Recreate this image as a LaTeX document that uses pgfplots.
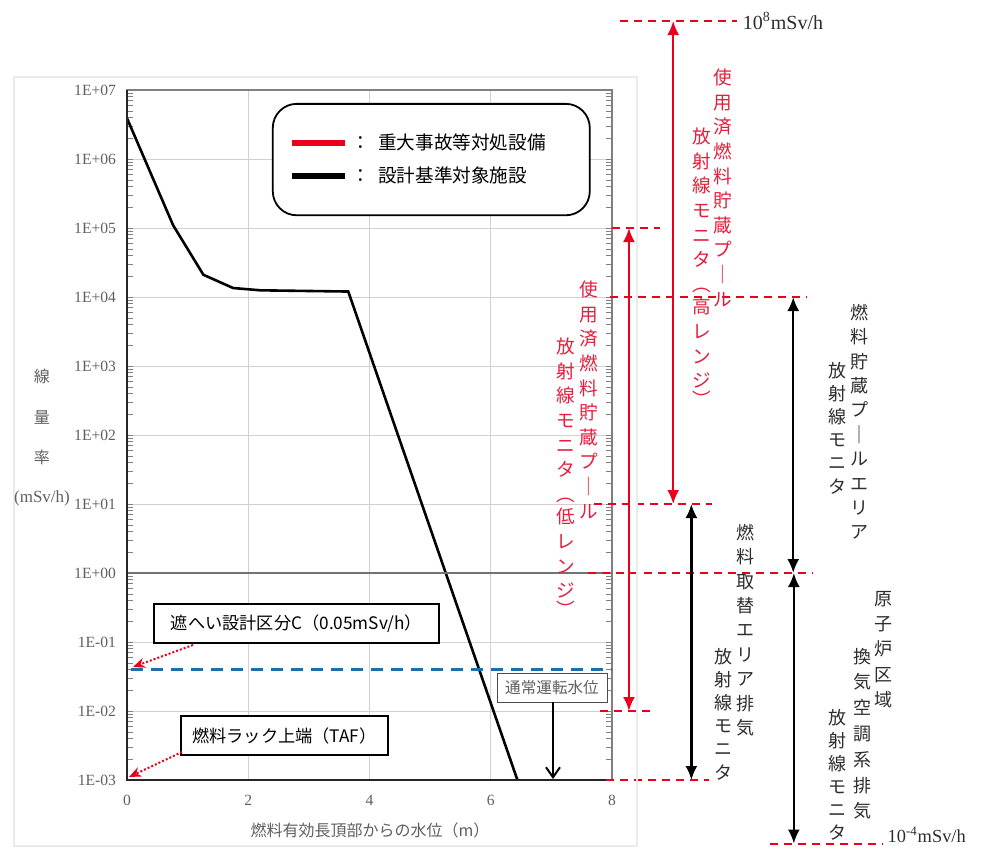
\documentclass[border=0pt]{standalone}
\usepackage{fontspec}
\setmainfont{Liberation Serif}
\newfontfamily\jp{Noto Sans CJK JP}
\usepackage{pgfplots}
\pgfplotsset{compat=1.18}
\usetikzlibrary{arrows.meta}
\definecolor{sared}{RGB}{232,0,30}
\definecolor{satext}{RGB}{228,30,60}
\definecolor{blueline}{RGB}{30,110,170}
\definecolor{ticktext}{RGB}{95,95,95}
\definecolor{vtext}{RGB}{45,45,45}
\tikzset{
  rarr/.style={sared, line width=1.1pt, {Latex[length=7pt,width=6pt]}-{Latex[length=7pt,width=6pt]}},
  barr/.style={black, line width=1.1pt, {Latex[length=7pt,width=6pt]}-{Latex[length=7pt,width=6pt]}},
  rdash/.style={sared, line width=1pt, dash pattern=on 4pt off 3pt},
  vred/.style={anchor=north, inner sep=0pt, align=center, text=satext, font=\jp\fontsize{9.3}{12.3}\selectfont},
  vblk/.style={anchor=north, inner sep=0pt, align=center, text=vtext, font=\jp\fontsize{9}{12.2}\selectfont},
  vblkl/.style={anchor=north, inner sep=0pt, align=center, text=vtext, font=\jp\fontsize{9}{11.6}\selectfont},
}
\begin{document}
\begin{tikzpicture}
\useasboundingbox (-63.5pt,-34pt) rectangle (427.5pt,390pt);
\begin{axis}[
  at={(0,0)}, anchor=south west,
  scale only axis, width=242.5pt, height=345pt,
  xmin=0, xmax=8, ymin=1e-3, ymax=1e7, ymode=log,
  xtick={0,2,4,6,8},
  ytick={1e-3,1e-2,1e-1,1,1e1,1e2,1e3,1e4,1e5,1e6,1e7},
  yticklabels={1E-03,1E-02,1E-01,1E+00,1E+01,1E+02,1E+03,1E+04,1E+05,1E+06,1E+07},
  /pgf/number format/assume math mode=true,
  ticklabel style={font=\fontsize{7.8}{9}\selectfont, text=ticktext},
  yticklabel style={xshift=-2pt},
  xticklabel style={yshift=-4pt},
  major tick length=0pt,
  grid=major, major grid style={draw=black!18, line width=0.5pt},
  axis line style={draw=black!50, line width=0.8pt},
  clip=false,
  legend style={at={(axis cs:2.39,6.49e6)}, anchor=north west, draw=black, line width=0.9pt,
    rounded corners=12pt, inner xsep=8pt, inner ysep=13pt,
    font=\jp\fontsize{9.3}{11}\selectfont, row sep=3pt},
  legend cell align=left,
  legend image code/.code={\draw[#1, rounded corners=0pt] (0pt,0pt) -- (26.5pt,0pt);},
]
\addplot[black, line width=1.3pt, forget plot] coordinates {
  (0,3.9e6) (0.29,1.0e6) (0.76,1.1e5) (1.26,2.1e4) (1.75,1.35e4) (2.2,1.25e4) (3.65,1.2e4) (6.44,1e-3)};
\addplot[blueline, line width=1.5pt, dash pattern=on 6pt off 4pt, forget plot] coordinates {(0.07,0.04) (8,0.04)};
\addlegendimage{sared, line width=3pt}
\addlegendentry{：\hspace{4pt}重大事故等対処設備\hspace*{12pt}}
\addlegendimage{black, line width=3pt}
\addlegendentry{：\hspace{4pt}設計基準対象施設}
% darker lines
\draw[black!55, line width=0.6pt] (axis cs:0,1) -- (axis cs:8,1);
\draw[black!85, line width=1pt] (rel axis cs:0,1) -- (rel axis cs:0,0) -- (rel axis cs:1,0);
% range limit lines
\draw[rdash] (axis cs:8.14,1e8) -- (axis cs:10.06,1e8);
\draw[rdash] (axis cs:8.0,1e5) -- (axis cs:8.8,1e5);
\draw[rdash] (axis cs:7.97,1e4) -- (axis cs:11.22,1e4);
\draw[rdash] (axis cs:7.7,1e1) -- (axis cs:9.65,1e1);
\draw[rdash] (axis cs:7.6,1) -- (axis cs:11.32,1);
\draw[rdash] (axis cs:7.8,1e-2) -- (axis cs:8.65,1e-2);
\draw[rdash] (axis cs:7.9,1e-3) -- (axis cs:9.6,1e-3);
\draw[rdash] (axis cs:10.6,1.2e-4) -- (axis cs:12.45,1.2e-4);
% range arrows
\draw[rarr] (axis cs:9.01,1e8) -- (axis cs:9.01,1e1);
\draw[rarr] (axis cs:8.28,1e5) -- (axis cs:8.28,1e-2);
\draw[barr] (axis cs:10.99,1e4) -- (axis cs:10.99,1);
\draw[barr] (axis cs:9.31,1e1) -- (axis cs:9.31,1e-3);
\draw[barr] (axis cs:11.0,1) -- (axis cs:11.0,1.2e-4);
\node[anchor=west, inner sep=1pt, font=\fontsize{10}{12}\selectfont, text=vtext] at (axis cs:10.12,1e8) {10\textsuperscript{8}mSv/h};
\node[anchor=west, inner sep=0pt, font=\fontsize{9.2}{11}\selectfont, text=vtext] at (axis cs:12.54,1.6e-4) {10\textsuperscript{-4}mSv/h};
\end{axis}
\begin{scope}[shift={(-63.5pt,390pt)}, x=0.5pt, y=-0.5pt]
\draw[black!8, line width=0.6pt] (14,77) rectangle (637,846);
% y label
\node[font=\jp\fontsize{8}{9}\selectfont, text=ticktext] at (42,376) {線};
\node[font=\jp\fontsize{8}{9}\selectfont, text=ticktext] at (42,417) {量};
\node[font=\jp\fontsize{8}{9}\selectfont, text=ticktext] at (42,457) {率};
\node[font=\fontsize{8.5}{10}\selectfont, text=ticktext] at (42,498) {(mSv/h)};
% x label
\node[font=\jp\fontsize{8}{9}\selectfont, text=ticktext] at (370,830) {燃料有効長頂部からの水位（m）};
% callouts
\draw[black, line width=1pt, fill=white] (154,604) rectangle (439,643);
\node[font=\jp\fontsize{8.6}{10}\selectfont] at (296.5,623.5) {遮へい設計区分C（0.05mSv/h）};
\draw[sared, line width=1pt, dash pattern=on 1pt off 1pt, -{Stealth[length=6pt,width=5pt]}] (193,645) -- (133,667);
\draw[black, line width=1pt, fill=white] (181,716) rectangle (388,755);
\node[font=\jp\fontsize{8.6}{10}\selectfont] at (284.5,735.5) {燃料ラック上端（TAF）};
\draw[sared, line width=1pt, dash pattern=on 1pt off 1pt, -{Stealth[length=6pt,width=5pt]}] (182,752) -- (129,777);
\draw[black!70, line width=0.5pt, fill=white] (497,673) rectangle (607,702);
\node[font=\jp\fontsize{7.8}{9}\selectfont, text=ticktext] at (552,687.5) {通常運転水位};
\draw[black, line width=1pt, -{Straight Barb[length=5pt,width=7pt]}] (553,702) -- (553,779);
% vertical texts (red)
\node[vred] at (723,68.6) {使\\用\\済\\燃\\料\\貯\\蔵\\プ\\｜\\ル};
\node[vred] at (702,127.6) {放\\射\\線\\モ\\ニ\\タ\\︵\\[-1pt]高\\レ\\ン\\ジ\\[-3pt]︶};
\node[vred] at (589,280.6) {使\\用\\済\\燃\\料\\貯\\蔵\\プ\\｜\\ル};
\node[vred] at (566,337.6) {放\\射\\線\\モ\\ニ\\タ\\︵\\[-1pt]低\\レ\\ン\\ジ\\[-3pt]︶};
% vertical texts (black)
\node[vblk] at (859,303.6) {燃\\料\\貯\\蔵\\プ\\｜\\ル\\エ\\リ\\ア};
\node[vblkl] at (837,361.6) {放\\射\\線\\モ\\ニ\\タ};
\node[vblk] at (745,523.6) {燃\\料\\取\\替\\エ\\リ\\ア\\排\\気};
\node[vblkl] at (723,647.6) {放\\射\\線\\モ\\ニ\\タ};
\node[vblk, font=\jp\fontsize{9}{12.7}\selectfont] at (883,590.6) {原\\子\\炉\\区\\域};
\node[vblk, font=\jp\fontsize{9}{12.9}\selectfont] at (862,647.6) {換\\気\\空\\調\\系\\排\\気};
\node[vblkl, font=\jp\fontsize{9}{11.5}\selectfont] at (837,708.6) {放\\射\\線\\モ\\ニ\\タ};
\end{scope}
\end{tikzpicture}
\end{document}
